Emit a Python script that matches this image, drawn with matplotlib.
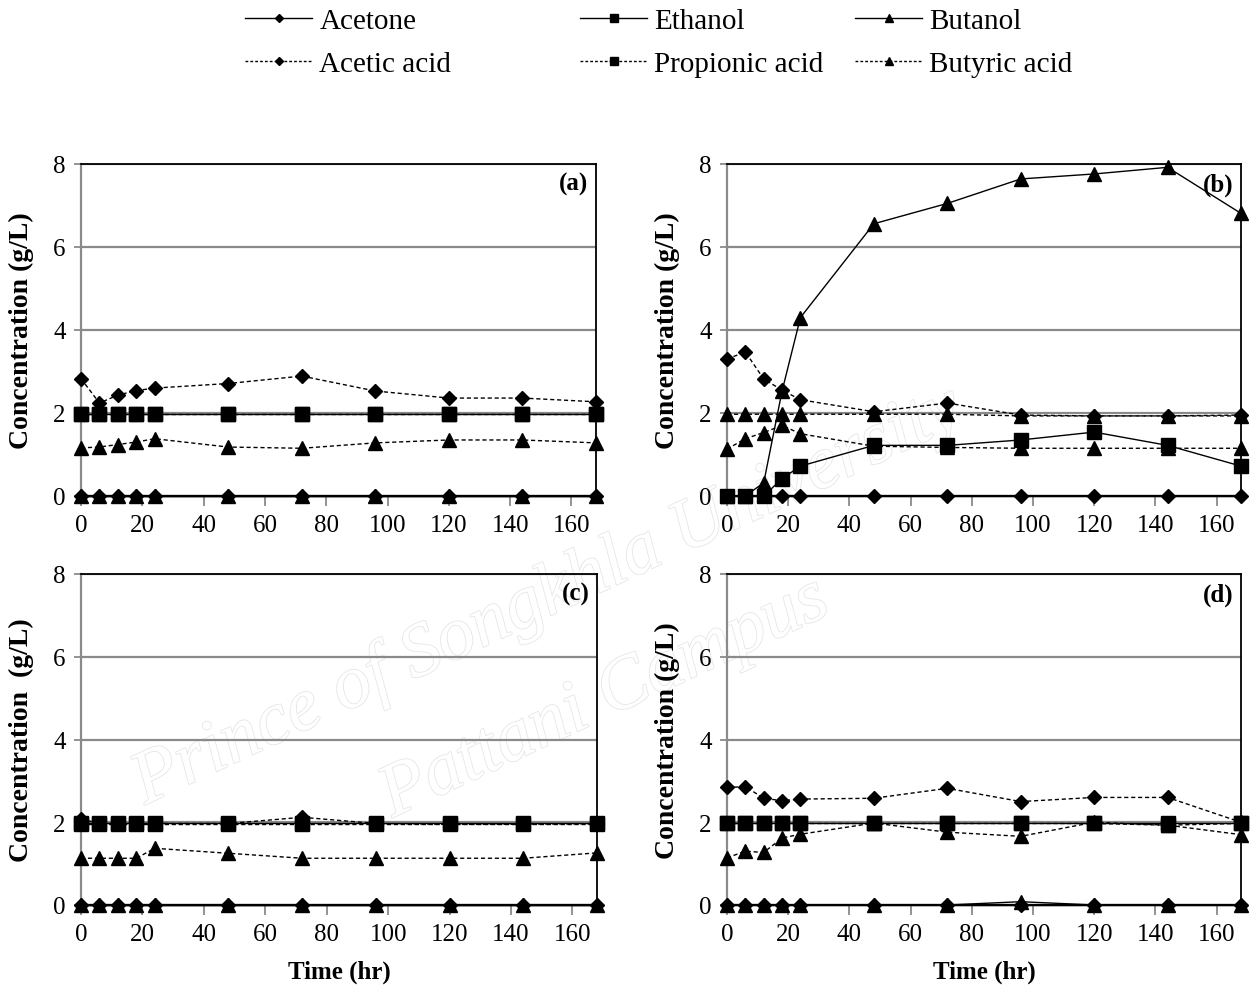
import matplotlib
matplotlib.use("Agg")
import matplotlib.pyplot as plt
from matplotlib.lines import Line2D
import matplotlib.patheffects as pe

plt.rcParams['font.family'] = ['Liberation Serif', 'DejaVu Serif']

time = [0, 6, 12, 18, 24, 48, 72, 96, 120, 144, 168]

# Panel (a)
acetone_a = [0, 0, 0, 0, 0, 0, 0, 0, 0, 0, 0]
ethanol_a = [1.98, 1.98, 1.98, 1.98, 1.98, 1.98, 1.98, 1.98, 1.98, 1.98, 1.98]
butanol_a = [0, 0, 0, 0, 0, 0, 0, 0, 0, 0, 0]
acetic_a = [2.83, 2.24, 2.43, 2.54, 2.60, 2.71, 2.89, 2.53, 2.36, 2.36, 2.27]
propionic_a = [1.97, 1.97, 1.97, 1.97, 1.97, 1.97, 1.97, 1.97, 1.97, 1.97, 1.97]
butyric_a = [1.16, 1.18, 1.24, 1.30, 1.38, 1.18, 1.15, 1.28, 1.35, 1.35, 1.28]

# Panel (b)
acetone_b = [0, 0, 0, 0, 0, 0, 0, 0, 0, 0, 0]
ethanol_b = [0, 0, 0, 0.42, 0.72, 1.22, 1.22, 1.35, 1.54, 1.22, 0.72]
butanol_b = [0, 0, 0.32, 2.53, 4.30, 6.56, 7.05, 7.64, 7.76, 7.92, 6.81]
acetic_b = [3.30, 3.47, 2.82, 2.55, 2.32, 2.03, 2.24, 1.95, 1.93, 1.93, 1.95]
propionic_b = [1.97, 1.97, 1.97, 1.97, 1.97, 1.97, 1.97, 1.93, 1.93, 1.93, 1.93]
butyric_b = [1.13, 1.38, 1.53, 1.70, 1.50, 1.20, 1.17, 1.15, 1.15, 1.15, 1.15]

# Panel (c)
acetone_c = [0, 0, 0, 0, 0, 0, 0, 0, 0, 0, 0]
ethanol_c = [1.98, 1.98, 1.98, 1.98, 1.98, 1.98, 1.98, 1.98, 1.98, 1.98, 1.98]
butanol_c = [0, 0, 0, 0, 0, 0, 0, 0, 0, 0, 0]
acetic_c = [2.08, 1.97, 1.97, 1.97, 1.97, 1.97, 2.12, 1.97, 1.95, 1.95, 1.97]
propionic_c = [1.96, 1.96, 1.96, 1.96, 1.96, 1.96, 1.96, 1.96, 1.96, 1.96, 1.96]
butyric_c = [1.13, 1.13, 1.13, 1.13, 1.37, 1.25, 1.13, 1.13, 1.13, 1.13, 1.26]

# Panel (d)
acetone_d = [0, 0, 0, 0, 0, 0, 0, 0, 0, 0, 0]
ethanol_d = [1.98, 1.98, 1.98, 1.98, 1.98, 1.98, 1.98, 1.98, 1.98, 1.98, 1.98]
butanol_d = [0, 0, 0, 0, 0, 0, 0, 0.08, 0, 0, 0]
acetic_d = [2.84, 2.86, 2.58, 2.52, 2.56, 2.58, 2.82, 2.50, 2.60, 2.60, 2.00]
propionic_d = [1.97, 1.97, 1.97, 1.97, 1.97, 1.97, 1.97, 1.97, 1.97, 1.93, 1.97]
butyric_d = [1.14, 1.30, 1.27, 1.62, 1.71, 1.98, 1.76, 1.66, 2.00, 1.93, 1.70]

series_names = ["Acetone", "Ethanol", "Butanol", "Acetic acid", "Propionic acid", "Butyric acid"]
panel_labels = ["(a)", "(b)", "(c)", "(d)"]
ylabels = ["Concentration (g/L)", "Concentration (g/L)", "Concentration  (g/L)", "Concentration (g/L)"]
xticks = [0, 20, 40, 60, 80, 100, 120, 140, 160]
yticks = [0, 2, 4, 6, 8]

panels = [
    [acetone_a, ethanol_a, butanol_a, acetic_a, propionic_a, butyric_a],
    [acetone_b, ethanol_b, butanol_b, acetic_b, propionic_b, butyric_b],
    [acetone_c, ethanol_c, butanol_c, acetic_c, propionic_c, butyric_c],
    [acetone_d, ethanol_d, butanol_d, acetic_d, propionic_d, butyric_d],
]

markers = ['D', 's', '^', 'D', 's', '^']
msizes = [7, 10, 10, 7, 10, 10]
dash = (0, (3, 2))
styles = ['-', '-', '-', dash, dash, dash]
# in panel (b) the propionic acid points are drawn with triangles in the source
marker_override = {1: {4: '^'}}

W, H = 1259, 995
fig = plt.figure(figsize=(W / 100, H / 100), dpi=100)

# Watermark text (faint, hollow), behind transparent axes
wm = dict(color='white', fontsize=54, style='italic', family='Liberation Serif',
          zorder=-5,
          path_effects=[pe.withStroke(linewidth=1.2, foreground='#e6e6e6')])
fig.text(548 / W, 1 - 598 / H, "Prince of Songkhla University", ha='center', va='center',
         rotation=25, **wm)
fig.text(605 / W, 1 - 700 / H, "Pattani Campus", ha='center', va='center',
         rotation=25, **wm)

boxes = [(81, 165, 596, 497), (727, 165, 1241, 497),
         (81, 575, 597, 906), (727, 575, 1241, 906)]

grid_c = '#8a8a8a'
for i, (x0, y0, x1, y1) in enumerate(boxes):
    ax = fig.add_axes([x0 / W, 1 - y1 / H, (x1 - x0) / W, (y1 - y0) / H])
    ax.patch.set_alpha(0)
    ax.set_xlim(0, 168)
    ax.set_ylim(0, 8)
    ax.set_xticks(xticks)
    ax.set_yticks(yticks)
    ax.yaxis.grid(True, color=grid_c, lw=1.6)
    ax.set_axisbelow(True)
    ax.spines['left'].set_color(grid_c)
    ax.spines['left'].set_linewidth(1.6)
    ax.spines['bottom'].set_color('black')
    ax.spines['bottom'].set_linewidth(1.6)
    ax.spines['top'].set_color('black')
    ax.spines['top'].set_linewidth(1.3)
    ax.spines['right'].set_color('black')
    ax.spines['right'].set_linewidth(1.3)
    ax.tick_params(axis='x', direction='out', length=7, width=1.3, color=grid_c,
                   labelsize=18, pad=6)
    ax.tick_params(axis='y', direction='out', length=5, width=1.3, color=grid_c,
                   labelsize=18, pad=6)
    for j, vals in enumerate(panels[i]):
        mk = marker_override.get(i, {}).get(j, markers[j])
        ax.plot(time, vals, color='black', lw=1.0, linestyle=styles[j],
                marker=mk, ms=msizes[j], mfc='black', mec='black',
                clip_on=False, zorder=3 + j * 0.1)
    ax.text(0.985, 0.975, panel_labels[i], transform=ax.transAxes, ha='right', va='top',
            fontsize=18, fontweight='bold')
    ax.set_ylabel(ylabels[i], fontsize=20, fontweight='bold')
    ax.yaxis.set_label_coords(-0.092, 0.5)
    if i >= 2:
        ax.set_xlabel("Time (hr)", fontsize=18, fontweight='bold')
        ax.xaxis.set_label_coords(0.5, -0.165)

# Legend: three columns, each its own legend
col_x = [245, 580, 855]
for c in range(3):
    handles = []
    labels = []
    for r in range(2):
        j = r * 3 + c
        handles.append(Line2D([], [], color='black', lw=1.0,
                              linestyle='-' if r == 0 else (0, (2, 1.5)),
                              marker=markers[j], ms=6 if markers[j] != 'D' else 4.5,
                              mfc='black', mec='black'))
        labels.append(series_names[j])
    fig.legend(handles, labels, loc='upper left',
               bbox_to_anchor=(col_x[c] / W, 1 - 9 / H),
               frameon=False, fontsize=21, handlelength=2.3, handletextpad=0.25,
               borderpad=0, borderaxespad=0, labelspacing=0.56)

fig.savefig("out.png", dpi=100)
